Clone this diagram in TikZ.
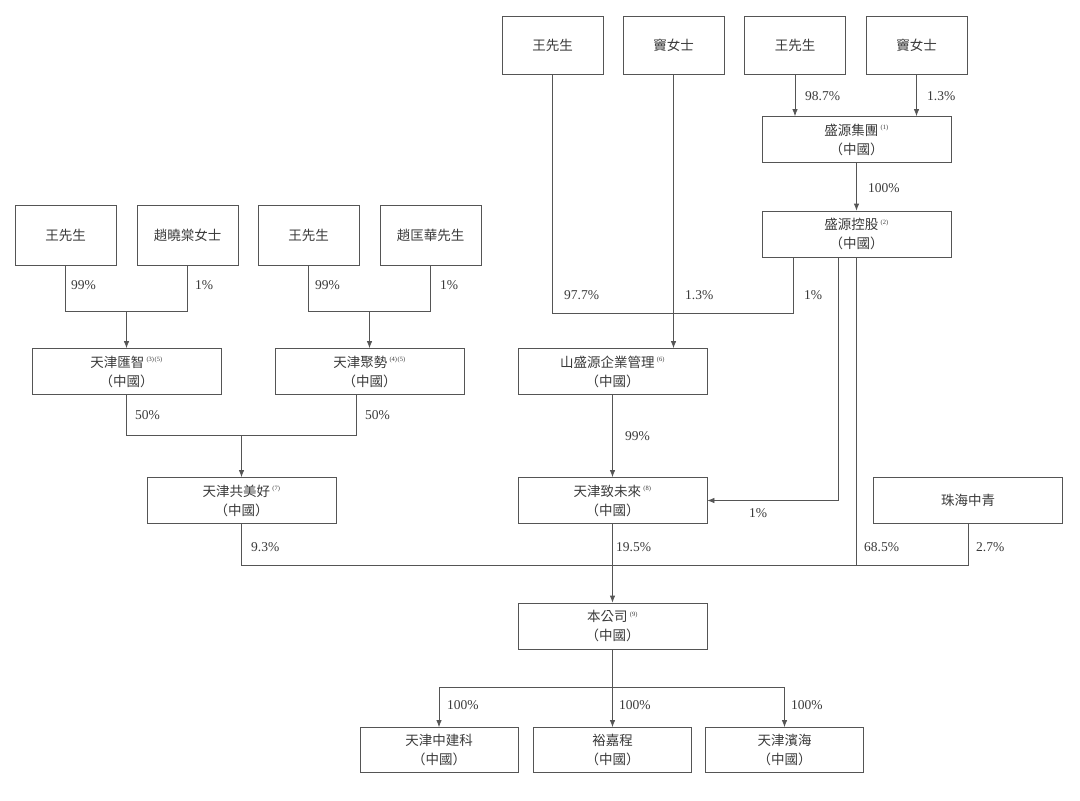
\documentclass[tikz,border=0pt]{standalone}
\usepackage{fontspec}
\setmainfont{Liberation Serif}
\newfontfamily\cjk{Noto Sans CJK TC}
\usetikzlibrary{arrows.meta}
\definecolor{linec}{HTML}{555555}
\definecolor{textc}{HTML}{3A3A3A}
\newcommand{\nt}[1]{\textsuperscript{\normalfont\fontsize{6.5}{6.5}\selectfont(#1)}}
\begin{document}
\begin{tikzpicture}[x=1pt,y=-1pt,
  box/.style={draw=linec, line width=0.8pt, align=center, text=textc, inner sep=0pt,
    font=\cjk\fontsize{13.5}{19}\selectfont},
  top/.style={box, minimum width=101pt, minimum height=58pt},
  mid/.style={box, minimum width=101pt, minimum height=60pt},
  ent/.style={box, minimum width=189pt, minimum height=46pt},
  sub/.style={box, minimum width=158pt, minimum height=45pt},
  lab/.style={anchor=west, inner sep=0pt, text=textc, font=\fontsize{13.5}{14}\selectfont},
  conn/.style={draw=linec, line width=0.8pt},
  arr/.style={conn, -{Latex[length=7pt,width=5.5pt]}}]
\useasboundingbox (0,0) rectangle (1080,801);

% top row
\node[top] (w1) at (552.5,45) {王先生};
\node[top] (d1) at (673.5,45) {竇女士};
\node[top] (w2) at (795,45) {王先生};
\node[top] (d2) at (916.5,45) {竇女士};
\node[ent] (sy1) at (856.5,139.5) {盛源集團\,\nt{1}\\（中國）};
\node[ent] (sy2) at (856.5,234) {盛源控股\,\nt{2}\\（中國）};

% left persons
\node[mid] (l1) at (65.5,235) {王先生};
\node[mid] (zx) at (187.5,235) {趙曉棠女士};
\node[mid] (l2) at (308.5,235) {王先生};
\node[mid] (zk) at (430.5,235) {趙匡華先生};

% third row
\node[ent] (hz) at (126.5,371.5) {天津匯智\,\nt{3}\nt{5}\\（中國）};
\node[ent] (js) at (369.5,371.5) {天津聚勢\,\nt{4}\nt{5}\\（中國）};
\node[ent] (ssy) at (612.5,371.5) {山盛源企業管理\,\nt{6}\\（中國）};

% fourth row
\node[ent] (gmh) at (241.5,500.5) {天津共美好\,\nt{7}\\（中國）};
\node[ent] (zwl) at (612.5,500.5) {天津致未來\,\nt{8}\\（中國）};
\node[ent] (zh) at (968,500.5) {珠海中青};

% company
\node[ent] (bgs) at (612.5,626) {本公司\,\nt{9}\\（中國）};

% subsidiaries
\node[sub] (c1) at (439,750) {天津中建科\\（中國）};
\node[sub] (c2) at (612.5,750) {裕嘉程\\（中國）};
\node[sub] (c3) at (784.5,750) {天津濱海\\（中國）};

% junction coordinates
\coordinate (j1) at (793,313);
\coordinate (jl) at (126.5,311);
\coordinate (jr) at (369.5,311);
\coordinate (jm) at (241.5,435);
\coordinate (jjs) at (356,435);
\coordinate (h) at (612.5,565);
\coordinate (k) at (838,500.5);
\coordinate (jb) at (612.5,687);

% top right
\draw[arr] (w2.south) -- (w2.south |- sy1.north);
\draw[arr] (d2.south) -- (d2.south |- sy1.north);
\draw[arr] (sy1.south) -- (sy2.north);

% to 山盛源
\draw[conn] (w1.south) |- (j1) -- (j1 |- sy2.south);
\draw[arr] (d1.south) -- (d1.south |- ssy.north);
\draw[arr] (ssy.south) -- (zwl.north);
\draw[arr] (k |- sy2.south) -- (k) -- (zwl.east);

% left groups
\draw[conn] (l1.south) |- (zx.south |- jl) -- (zx.south);
\draw[arr] (jl) -- (hz.north);
\draw[conn] (l2.south) |- (zk.south |- jr) -- (zk.south);
\draw[arr] (jr) -- (js.north);
\draw[conn] (hz.south) |- (jjs) -- (jjs |- js.south);
\draw[arr] (jm) -- (gmh.north);

% to company
\draw[conn] (gmh.south) |- (zh.south |- h) -- (zh.south);
\draw[conn] (sy2.south) -- (sy2.south |- h);
\draw[arr] (zwl.south) -- (bgs.north);

% subsidiaries
\draw[conn] (bgs.south) -- (jb);
\draw[conn] (c1.north |- jb) -- (c3.north |- jb);
\draw[arr] (c1.north |- jb) -- (c1.north);
\draw[arr] (jb) -- (c2.north);
\draw[arr] (c3.north |- jb) -- (c3.north);

% labels
\node[lab] at (805,96) {98.7\%};
\node[lab] at (927,96) {1.3\%};
\node[lab] at (868,188) {100\%};
\node[lab] at (564,295) {97.7\%};
\node[lab] at (685,295) {1.3\%};
\node[lab] at (804,295) {1\%};
\node[lab] at (71,285) {99\%};
\node[lab] at (195,285) {1\%};
\node[lab] at (315,285) {99\%};
\node[lab] at (440,285) {1\%};
\node[lab] at (135,415) {50\%};
\node[lab] at (365,415) {50\%};
\node[lab] at (625,436) {99\%};
\node[lab] at (749,513) {1\%};
\node[lab] at (251,547) {9.3\%};
\node[lab] at (616,547) {19.5\%};
\node[lab] at (864,547) {68.5\%};
\node[lab] at (976,547) {2.7\%};
\node[lab] at (447,705) {100\%};
\node[lab] at (619,705) {100\%};
\node[lab] at (791,705) {100\%};
\end{tikzpicture}
\end{document}
